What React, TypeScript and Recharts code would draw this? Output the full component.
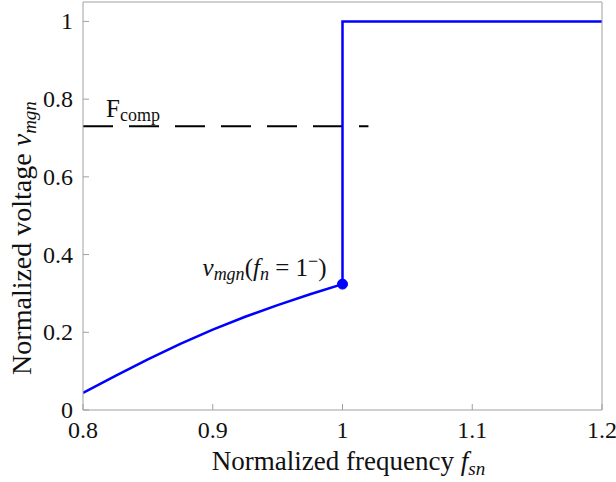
import React from 'react';
import { LineChart, Line, XAxis, YAxis, ReferenceDot } from 'recharts';

// Normalized frequency f_sn (x) and normalized voltage v_mgn (y)
const freq = [0.8, 0.825, 0.85, 0.875, 0.9, 0.925, 0.95, 0.975, 1.0, 1.0, 1.2];
const vmgn = [0.044, 0.088, 0.13, 0.17, 0.207, 0.24, 0.27, 0.298, 0.324, 1.0, 1.0];

// F_comp dashed level
const fcompFreq = [0.8, 1.02];
const fcompLevel = 0.73;

// marked point v_mgn(f_n = 1^-)
const markFreq = 1.0;
const markV = 0.324;

const xTicks = [0.8, 0.9, 1, 1.1, 1.2];
const yTicks = [0, 0.2, 0.4, 0.6, 0.8, 1];

const curveData = freq.map((f, i) => ({ f, v: vmgn[i] }));
const fcompData = fcompFreq.map((f) => ({ f, v: fcompLevel }));

const FONT = '"Liberation Serif", "Times New Roman", serif';
const AXIS = '#a0a0a0';
const TXT = '#111';

const XTick = (props: any) => {
  const { x, y, payload } = props;
  return (
    <text x={x} y={y + 20} textAnchor="middle" fontFamily={FONT} fontSize={24} fill={TXT}>
      {String(payload.value)}
    </text>
  );
};

const YTick = (props: any) => {
  const { x, y, payload } = props;
  return (
    <text x={x} y={y + 8} textAnchor="end" fontFamily={FONT} fontSize={24} fill={TXT}>
      {String(payload.value)}
    </text>
  );
};

const XLabel = (props: any) => {
  const vb = props.viewBox || {};
  const cx = vb.x + vb.width / 2 + 6;
  return (
    <text x={cx} y={vb.y + 60} textAnchor="middle" fontFamily={FONT} fontSize={27} fill={TXT}>
      Normalized frequency{' '}
      <tspan fontStyle="italic">f</tspan>
      <tspan fontStyle="italic" fontSize={19} dy={5}>sn</tspan>
    </text>
  );
};

const YLabel = (props: any) => {
  const vb = props.viewBox || {};
  const x = vb.x + 31;
  const y = vb.y + vb.height / 2 + 32;
  return (
    <text
      x={x}
      y={y}
      transform={`rotate(-90 ${x} ${y})`}
      textAnchor="middle"
      fontFamily={FONT}
      fontSize={28}
      fill={TXT}
    >
      Normalized voltage{' '}
      <tspan fontStyle="italic">v</tspan>
      <tspan fontStyle="italic" fontSize={19} dy={5}>mgn</tspan>
    </text>
  );
};

const MarkLabel = (props: any) => {
  const vb = props.viewBox || {};
  const cx = vb.x + (vb.width || 0) / 2;
  const cy = vb.y + (vb.height || 0) / 2;
  return (
    <text x={cx - 16} y={cy - 8} textAnchor="end" fontFamily={FONT} fontSize={25} fill={TXT}>
      <tspan fontStyle="italic">v</tspan>
      <tspan fontStyle="italic" fontSize={18} dy={4}>mgn</tspan>
      <tspan dy={-4}>(</tspan>
      <tspan fontStyle="italic">f</tspan>
      <tspan fontStyle="italic" fontSize={18} dy={4}>n</tspan>
      <tspan dy={-4}> = 1</tspan>
      <tspan fontSize={18} dy={-9}>−</tspan>
      <tspan dy={9}>)</tspan>
    </text>
  );
};

const FcompLabel = (props: any) => {
  const vb = props.viewBox || {};
  const cx = vb.x + (vb.width || 0) / 2;
  const cy = vb.y + (vb.height || 0) / 2;
  return (
    <text x={cx + 23} y={cy - 9} fontFamily={FONT} fontSize={25} fill={TXT}>
      F
      <tspan fontSize={18} dy={4}>comp</tspan>
    </text>
  );
};

export default function App() {
  return (
    <div style={{ position: 'absolute', left: 0, top: 0, background: '#fff' }}>
      <LineChart width={616} height={482} margin={{ top: 0, right: 0, bottom: 0, left: 0 }}>
        <XAxis
          xAxisId="b"
          type="number"
          dataKey="f"
          domain={[0.8, 1.2]}
          ticks={xTicks}
          allowDataOverflow
          height={72}
          stroke={AXIS}
          tickSize={-6}
          tickMargin={14}
          tick={<XTick />}
          label={{ content: XLabel }}
        />
        <XAxis
          xAxisId="t"
          orientation="top"
          type="number"
          dataKey="f"
          domain={[0.8, 1.2]}
          ticks={xTicks}
          allowDataOverflow
          height={2}
          stroke={AXIS}
          tickSize={-6}
          tick={false}
        />
        <YAxis
          yAxisId="l"
          type="number"
          domain={[0, 1.05]}
          ticks={yTicks}
          allowDataOverflow
          width={83}
          stroke={AXIS}
          tickSize={-6}
          tickMargin={16}
          tick={<YTick />}
          label={{ content: YLabel }}
        />
        <YAxis
          yAxisId="r"
          orientation="right"
          type="number"
          domain={[0, 1.05]}
          ticks={yTicks}
          allowDataOverflow
          width={14}
          stroke={AXIS}
          tickSize={-6}
          tick={false}
        />
        <Line
          xAxisId="b"
          yAxisId="l"
          data={fcompData}
          dataKey="v"
          type="linear"
          stroke="#000"
          strokeWidth={2}
          strokeDasharray="30 16"
          dot={false}
          activeDot={false}
          isAnimationActive={false}
        />
        <Line
          xAxisId="b"
          yAxisId="l"
          data={curveData}
          dataKey="v"
          type="linear"
          stroke="#0000ff"
          strokeWidth={2.5}
          dot={false}
          activeDot={false}
          isAnimationActive={false}
        />
        <ReferenceDot
          xAxisId="b"
          yAxisId="l"
          x={markFreq}
          y={markV}
          r={5}
          fill="#0000ff"
          stroke="#0000ff"
          label={{ content: MarkLabel }}
        />
        <ReferenceDot
          xAxisId="b"
          yAxisId="l"
          x={fcompFreq[0]}
          y={fcompLevel}
          r={0.01}
          fill="none"
          stroke="none"
          label={{ content: FcompLabel }}
        />
      </LineChart>
    </div>
  );
}
